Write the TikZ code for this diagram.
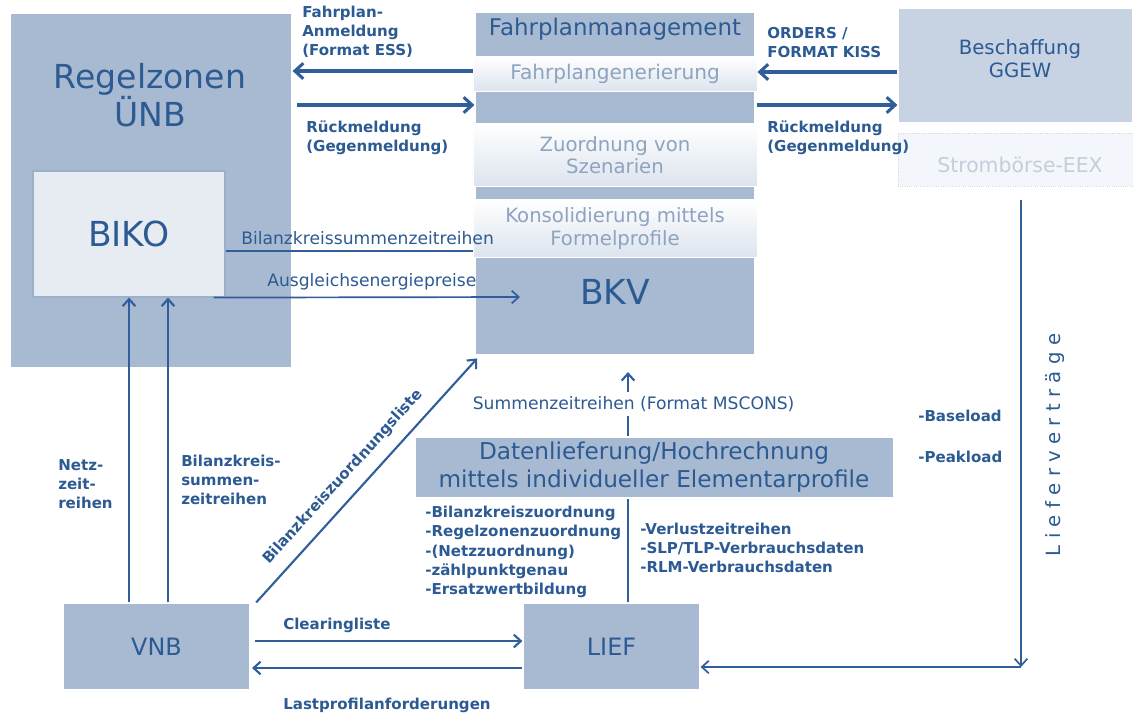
\documentclass[tikz,border=0pt]{standalone}
\usepackage{fontspec}
\setmainfont{DejaVu Sans}
\usetikzlibrary{arrows.meta,shadows}
\definecolor{tc}{HTML}{2C5A92}
\definecolor{ac}{HTML}{2F5E9A}
\definecolor{bf}{HTML}{A8BAD2}
\definecolor{lf}{HTML}{C7D2E2}
\definecolor{bikof}{HTML}{E7ECF3}
\definecolor{bikod}{HTML}{9DB0CA}
\definecolor{gt}{HTML}{8EA3C0}
\definecolor{gb}{HTML}{DCE4EE}
\definecolor{eexf}{HTML}{F3F6FA}
\definecolor{eexd}{HTML}{CFD9E5}
\definecolor{eext}{HTML}{C3CEDD}
\tikzset{
  box/.style={fill=bf, draw=white, line width=0.8pt, inner sep=0pt, text=tc},
  gbox/.style={top color=white, bottom color=gb, draw=white, line width=0.6pt, inner sep=0pt,
    text=gt, align=center, drop shadow={opacity=0.18, shadow xshift=0.9pt, shadow yshift=-0.9pt}},
  blabel/.style={text=tc, font=\fontsize{10.7}{13.6}\selectfont\bfseries, align=left, inner sep=0pt},
  rlabel/.style={text=tc, font=\fontsize{12.2}{14}\selectfont, inner sep=0pt},
  bigarrow/.style={draw=ac, line width=2.2pt, -{Straight Barb[length=6pt,width=11pt]}},
  arr/.style={draw=ac, line width=1.5pt, -{Straight Barb[length=5pt,width=9pt]}},
  thinarr/.style={draw=ac, line width=1.2pt, -{Straight Barb[length=5pt,width=9pt]}},
  plainline/.style={draw=ac, line width=1.2pt},
}
\begin{document}
\begin{tikzpicture}[x=0.025cm, y=-0.025cm]
\useasboundingbox (0,0) rectangle (1133,716);

% helper coordinates
\coordinate (y71) at (0,71);
\coordinate (y72) at (0,72);
\coordinate (y105) at (0,105);
\coordinate (y251) at (0,251);
\coordinate (y641) at (0,641);
\coordinate (y668) at (0,668);
\coordinate (x129) at (129,0);
\coordinate (x168) at (168,0);
\coordinate (x628) at (628,0);

% Regelzonen UENB
\node[box, minimum width=7.05cm, minimum height=8.875cm] (uenb) at (151,190.5) {};
\node[text=tc, font=\fontsize{23.5}{25.6}\selectfont, align=center] (uenbt) at (150,95) {Regelzonen\\ÜNB};
\node[fill=bikof, draw=bikod, line width=0.8pt, text=tc, minimum width=4.8cm, minimum height=3.15cm,
  font=\fontsize{24.5}{26}\selectfont] (biko) at (129,234) {BIKO};

% BKV column
\node[box, minimum width=7cm, minimum height=8.575cm] (bkvcol) at (615,183.5) {};
\node[text=tc, font=\fontsize{16.3}{18}\selectfont] (fpm) at (615,29) {Fahrplanmanagement};
\node[gbox, minimum width=7.1cm, minimum height=0.85cm, font=\fontsize{14.3}{16}\selectfont] (fpg) at (615,74) {Fahrplangenerierung};
\node[gbox, minimum width=7.1cm, minimum height=1.55cm, font=\fontsize{14}{15.8}\selectfont] (zuo) at (615,155) {Zuordnung von\\Szenarien};
\node[gbox, minimum width=7.1cm, minimum height=1.425cm, font=\fontsize{14}{15.8}\selectfont] (kons) at (615,228.5) {Konsolidierung mittels\\Formelprofile};
\node[text=tc, font=\fontsize{24.5}{26}\selectfont] (bkv) at (615,292) {BKV};

% Beschaffung / EEX
\node[fill=lf, draw=white, line width=0.8pt, minimum width=5.875cm, minimum height=2.875cm] (besch) at (1015.5,65.5) {};
\node[text=tc, align=center, font=\fontsize{14}{16.4}\selectfont] (beschT) at (1020,58.5) {Beschaffung\\GGEW};
\node[fill=eexf, draw=eexd, densely dotted, line width=0.6pt, minimum width=5.875cm, minimum height=1.325cm] (eex) at (1015.5,159.5) {};
\node[text=eext, font=\fontsize{14.5}{16}\selectfont] (eexT) at (1020,165) {Strombörse-EEX};

% Datenlieferung
\node[box, minimum width=11.95cm, minimum height=1.525cm, align=center, font=\fontsize{16.5}{20}\selectfont] (dat) at (654,467.5)
  {Datenlieferung/Hochrechnung\\mittels individueller Elementarprofile};

% VNB / LIEF
\node[box, minimum width=4.675cm, minimum height=2.175cm, font=\fontsize{17}{19}\selectfont] (vnb) at (156.5,646.5) {VNB};
\node[box, minimum width=4.425cm, minimum height=2.175cm, font=\fontsize{17}{19}\selectfont] (lief) at (611.5,646.5) {LIEF};

\coordinate (sz) at (628,372);
\coordinate (aeE) at (520,297);
\coordinate (lt) at (1021,200);
\coordinate (lb) at (1021,667);

% connectors top
\draw[bigarrow] (fpg.west |- y71) -- (uenb.east |- y71);
\draw[bigarrow] ([xshift=3pt]uenb.east |- y105) -- (bkvcol.west |- y105);
\draw[bigarrow] (besch.west |- y72) -- (fpg.east |- y72);
\draw[bigarrow] (fpg.east |- y105) -- (besch.west |- y105);

% BIKO connectors
\draw[plainline] (biko.east |- y251) -- (kons.west |- y251);
\draw[thinarr] ([xshift=-8.5pt]biko.south east) -- (aeE);
\draw[arr] (vnb.north -| x129) -- (biko.south -| x129);
\draw[arr] (vnb.north -| x168) -- (biko.south -| x168);

% diagonal
\draw[arr] ([xshift=4pt]vnb.north east) -- ([xshift=2pt,yshift=-2pt]bkvcol.south west)
  node[pos=0.46, sloped, above=8pt, blabel] (lBZ) {Bilanzkreiszuordnungsliste};

% Summenzeitreihen
\draw[arr] (dat.north -| x628) -- (sz)
  node[midway, fill=white, inner xsep=2pt, inner ysep=3pt, xshift=4pt, text=tc, font=\fontsize{12.2}{14}\selectfont] (lSZ) {Summenzeitreihen (Format MSCONS)};
\draw[plainline] (lief.north -| x628) -- (dat.south -| x628);

% bottom
\draw[arr] ([xshift=3pt]vnb.east |- y641) -- (lief.west |- y641);
\draw[arr] (lief.west |- y668) -- ([xshift=1pt]vnb.east |- y668);
\draw[thinarr] (lt) -- (lb);
\draw[thinarr] (lb) -- (lief.east |- lb);

% labels
\node[blabel, anchor=west] (lFA) at (302,31.5) {Fahrplan-\\Anmeldung\\(Format ESS)};
\node[blabel, anchor=west] (lR1) at (306,137.5) {Rückmeldung\\(Gegenmeldung)};
\node[blabel, anchor=west] (lOR) at (767,42.5) {ORDERS /\\FORMAT KISS};
\node[blabel, anchor=west] (lR2) at (767,137.5) {Rückmeldung\\(Gegenmeldung)};
\node[rlabel, anchor=west] (lBSZ) at (241,238) {Bilanzkreissummenzeitreihen};
\node[rlabel, anchor=west] (lAEP) at (267,282) {Ausgleichsenergiepreise};
\node[blabel, anchor=west] (lNZ) at (58,484) {Netz-\\zeit-\\reihen};
\node[blabel, anchor=west] (lBS) at (181,480) {Bilanzkreis-\\summen-\\zeitreihen};
\node[blabel, anchor=west] (lL1) at (425,552) {-Bilanzkreiszuordnung\\-Regelzonenzuordnung\\-(Netzzuordnung)\\-zählpunktgenau\\-Ersatzwertbildung};
\node[blabel, anchor=west] (lL2) at (640,548) {-Verlustzeitreihen\\-SLP/TLP-Verbrauchsdaten\\-RLM-Verbrauchsdaten};
\node[blabel, anchor=west] (lCL) at (283,625) {Clearingliste};
\node[blabel, anchor=west] (lLP) at (283,705) {Lastprofilanforderungen};
\node[blabel, anchor=west] (lBL) at (918,416) {-Baseload};
\node[blabel, anchor=west] (lPL) at (918,457) {-Peakload};
\node[rotate=90, text=tc, inner sep=0pt, font=\fontsize{14}{16}\selectfont] (lLV) at (1055,445)
  {L\kern4.5pt i\kern4.5pt e\kern4.5pt f\kern4.5pt e\kern4.5pt r\kern4.5pt v\kern4.5pt e\kern4.5pt r\kern4.5pt t\kern4.5pt r\kern4.5pt ä\kern4.5pt g\kern4.5pt e};
\end{tikzpicture}
\end{document}
